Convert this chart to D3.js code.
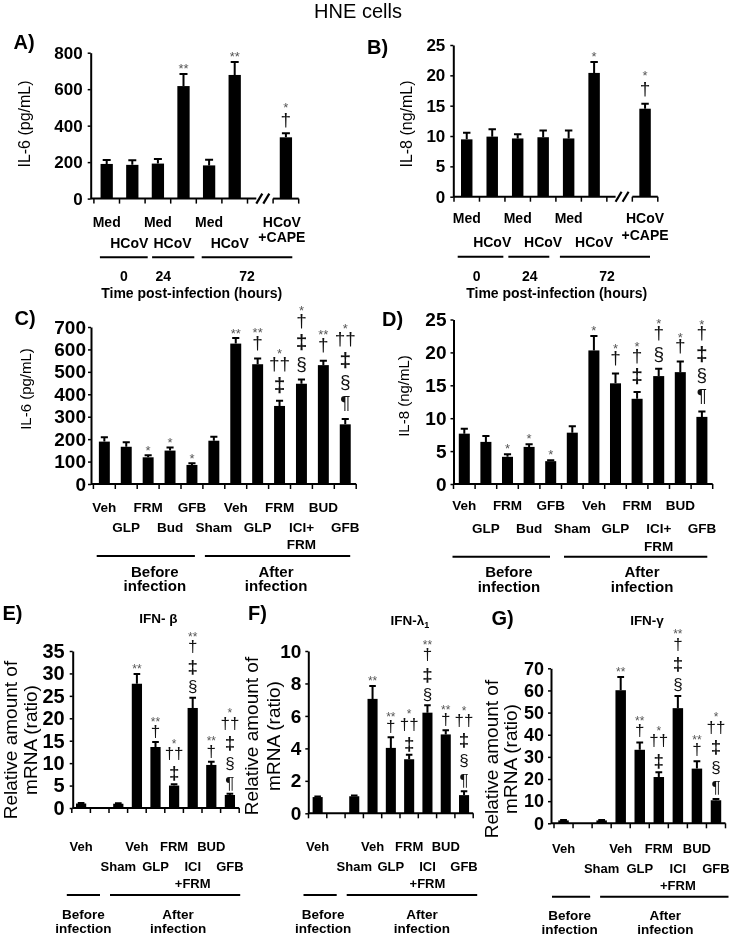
<!DOCTYPE html>
<html><head><meta charset="utf-8">
<script src="https://cdn.jsdelivr.net/npm/d3@7"></script>
<style>body{margin:0;background:#fff} #c{filter:grayscale(1)}</style>
</head><body><svg id="c" width="731" height="936"></svg>
<script>
// ---------------- DATA ----------------
const catsAB = ["Med","HCoV","Med","HCoV","Med","HCoV","","HCoV\n+CAPE"];
const il6A = [190,185,192,617,182,678,null,336];
const il6A_sem = [22,25,25,66,31,71,null,22];
const annA = ["","","","**","","**","","*|†"];
const il8B = [9.45,9.9,9.6,9.8,9.6,20.4,null,14.5];
const il8B_sem = [1.1,1.2,0.7,1.1,1.3,1.8,null,0.8];
const annB = ["","","","","","*","","*|†"];
const groupsAB = [{label:"0",from:0,to:1},{label:"24",from:2,to:3},{label:"72",from:4,to:7}];
const ticksA = [0,200,400,600,800];
const ticksB = [0,5,10,15,20,25];

const catsCD = ["Veh","GLP","FRM","Bud","GFB","Sham","Veh","GLP","FRM","ICI+\nFRM","BUD","GFB"];
const il6C = [189,166,119,149,85,193,626,534,348,447,530,266];
const il6C_sem = [19,20,9,14,7,18,25,25,23,19,19,24];
const annC = ["","","*","*","*","","**","**|†","*|††|‡","*|†|‡|§","**|†","*|††|‡|§|¶"];
const il8D = [7.65,6.4,4.13,5.64,3.47,7.8,20.3,15.3,12.95,16.4,17.0,10.2];
const il8D_sem = [0.75,0.9,0.4,0.4,0.13,0.96,2.2,1.5,1.05,1.1,1.6,0.8];
const annD = ["","","*","*","*","","*","*|†","*|†|‡","*|†|§","*|†","*|†|‡|§|¶"];
const groupsCD = [{label:"Before\ninfection",from:0,to:4},{label:"After\ninfection",from:5,to:11}];
const ticksC = [0,100,200,300,400,500,600,700];
const ticksD = [0,5,10,15,20,25];

const catsEFG = ["Veh","","Sham","Veh","GLP","FRM","ICI\n+FRM","BUD","GFB"];
const ifnbE = [1.0,null,0.95,27.7,13.6,5.0,22.3,9.6,2.9];
const ifnbE_sem = [0.1,null,0.1,2.2,1.1,0.3,2.3,0.7,0.25];
const ifnlF = [1.0,null,1.05,7.05,4.03,3.33,6.2,4.86,1.12];
const ifnlF_sem = [0.03,null,0.05,0.8,0.65,0.27,0.45,0.25,0.24];
const ifngG = [1.3,null,1.3,60.1,33.2,20.9,52.0,24.7,10.4];
const ifngG_sem = [0.2,null,0.2,6.0,3.3,2.1,5.5,3.3,0.6];
const annEFG = ["","","","**","**|†","*|††|‡","**|†|‡|§","**|†","*|††|‡|§|¶"];
const groupsEFG = [{label:"Before\ninfection",from:0,to:1},{label:"After\ninfection",from:2,to:8}];
const ticksE = [0,5,10,15,20,25,30,35];
const ticksF = [0,2,4,6,8,10];
const ticksG = [0,10,20,30,40,50,60,70];

// ---------------- DRAWING ----------------
const FONT = '"Liberation Sans", Arial, Helvetica, sans-serif';
const svg = d3.select("#c").attr("font-family", FONT);

function txt(g, x, y, s, fs, o = {}) {
  return g.append("text").attr("x", x).attr("y", y)
    .attr("font-size", fs).attr("font-weight", o.bold ? "bold" : "normal")
    .attr("text-anchor", o.anchor || "middle").attr("fill", o.fill || "#000").text(s);
}

function panel(c) {
  const g = svg.append("g");
  const n = c.cats.length;
  const x = d3.scaleBand().domain(d3.range(n)).range([c.x0, c.x1]);
  const bw = x.bandwidth();
  const cx = i => x(i) + bw / 2;
  const y = d3.scaleLinear().domain([0, c.max]).range([c.y0, c.yTop]);
  const idx = d3.range(n).filter(i => c.vals[i] != null);
  const w = bw * c.barFrac;

  g.append("g").selectAll("rect").data(idx).join("rect")
    .attr("x", i => cx(i) - w / 2).attr("width", w)
    .attr("y", i => y(c.vals[i])).attr("height", i => c.y0 - y(c.vals[i]))
    .attr("fill", "#000");

  const cw = w * c.capFrac;
  g.append("g").selectAll("path").data(idx.filter(i => c.sems[i] > 0)).join("path")
    .attr("d", i => {
      const t = y(c.vals[i] + c.sems[i]), b = y(c.vals[i]);
      return `M${cx(i)},${b}V${t}M${cx(i) - cw / 2},${t}H${cx(i) + cw / 2}`;
    })
    .attr("stroke", "#000").attr("stroke-width", 2).attr("fill", "none");

  // y axis
  const ya = d3.axisLeft(y).tickValues(c.ticks).tickSizeInner(c.tickLen).tickSizeOuter(0).tickPadding(c.tickPad);
  const yg = g.append("g").attr("transform", `translate(${c.axX},0)`).call(ya);
  yg.attr("font-family", FONT);
  yg.select(".domain").attr("stroke", "#000").attr("stroke-width", 2);
  yg.selectAll(".tick line").attr("stroke", "#000").attr("stroke-width", 1.5);
  yg.selectAll(".tick text").attr("font-size", c.tickFont).attr("font-weight", "bold").attr("fill", "#000");

  // x axis line (with optional break)
  let segs;
  if (c.brk != null) {
    const bc = cx(c.brk) + 2;
    segs = [[c.axX, bc - 6], [x(c.brk) + bw, c.x1]];
    [[bc - 6, bc], [bc + 1, bc + 7]].forEach(([a, b]) => {
      g.append("line").attr("x1", a).attr("y1", c.y0 + 5).attr("x2", b).attr("y2", c.y0 - 5)
        .attr("stroke", "#000").attr("stroke-width", 2.2);
    });
  } else segs = [[c.axX, c.x1]];
  segs.forEach(([a, b]) => g.append("line").attr("x1", a).attr("x2", b).attr("y1", c.y0).attr("y2", c.y0)
    .attr("stroke", "#000").attr("stroke-width", 2));
  d3.range(n + 1).forEach(k => {
    const xx = c.x0 + k * bw;
    g.append("line").attr("x1", xx).attr("x2", xx).attr("y1", c.y0).attr("y2", c.y0 + 5)
      .attr("stroke", "#000").attr("stroke-width", 1.5);
  });

  // category labels
  c.cats.forEach((s, i) => {
    if (!s) return;
    s.split("\n").forEach((ln, j) => {
      txt(g, cx(i) + (c.labelDx ? c.labelDx[i] : 0), c.rowY[c.rows[i]] + j * c.lineGap + 0.36 * c.catFont, ln, c.catFont, {bold: true});
    });
  });

  // groups
  c.groups.forEach((gr, k) => {
    const ins = c.groupInsets[k];
    const xa = x(gr.from) + ins[0], xb = x(gr.to) + bw - ins[1];
    g.append("line").attr("x1", xa).attr("x2", xb).attr("y1", c.groupLineY).attr("y2", c.groupLineY)
      .attr("stroke", "#000").attr("stroke-width", 2);
    gr.label.split("\n").forEach((ln, j) => {
      txt(g, (xa + xb) / 2 + c.groupDx[k], c.groupLabelY[j] + 0.36 * c.groupFont, ln, c.groupFont, {bold: true});
    });
  });
  if (c.timeTitle) txt(g, c.timeTitle.x, c.timeTitle.y + 0.36 * 14, "Time post-infection (hours)", 14, {bold: true});

  // significance symbols
  idx.forEach(i => {
    if (!c.anns[i]) return;
    const parts = c.anns[i].split("|");
    const yE = y(c.vals[i] + c.sems[i]);
    const syms = parts.filter(p => p[0] !== "*").reverse();
    let top = null;
    syms.forEach((s, k) => {
      const cy = yE - c.firstGap - k * c.symGap;
      const isDD = s === "‡";
      const fs = isDD ? c.symFont * 1.1 : c.symFont;
      txt(g, cx(i), cy + 0.28 * fs, s, fs, {bold: isDD, fill: "#111"});
      top = cy;
    });
    const ast = parts.find(p => p[0] === "*");
    if (ast) {
      const cy = top == null ? yE - c.astOnly : top - c.astGap;
      txt(g, cx(i), cy + 0.58 * c.astFont, ast, c.astFont, {fill: "#555"});
    }
  });

  // y title
  c.yTitle.lines.forEach((ln, j) => {
    g.append("text").attr("transform", `translate(${c.yTitle.xs[j] + 0.3 * c.yTitle.font},${c.yTitle.cy}) rotate(-90)`)
      .attr("text-anchor", "middle").attr("font-size", c.yTitle.font).attr("fill", "#000").text(ln);
  });
  // panel letter
  txt(g, c.letter.x, c.letter.y + 0.36 * 20, c.letter.t, 20, {bold: true});
  if (c.sub) {
    const t = txt(g, c.sub.x, c.sub.y + 0.36 * 13.5, c.sub.t, 13.5, {bold: true});
    if (c.sub.subscript) t.append("tspan").attr("font-size", 9).attr("dy", 3).text(c.sub.subscript);
  }
}

// title
txt(svg, 358, 17.5, "HNE cells", 20);

const rowsAB = [0,1,0,1,0,1,0,0];
const rowsCD = [0,1,0,1,0,1,0,1,0,1,0,1];
const rowsEFG = [0,0,1,0,1,0,1,0,1];

panel({cats: catsAB, vals: il6A, sems: il6A_sem, anns: annA, rows: rowsAB, groups: groupsAB, ticks: ticksA,
  axX: 90.7, x0: 93.9, x1: 298.7, y0: 198.6, yTop: 52.7, max: 800, tickFont: 17, tickLen: 3, tickPad: 5,
  barFrac: 0.48, capFrac: 0.65, brk: 6,
  rowY: [221.7, 243], lineGap: 15.6, catFont: 14, labelDx: [0,-3,0,-11,0,-5,0,-4],
  groupLineY: 257.3, groupInsets: [[6,-2.6],[7,2],[5.4,6.4]], groupLabelY: [276], groupFont: 14, groupDx: [0,-10,0],
  timeTitle: {x: 191.7, y: 293},
  yTitle: {lines: ["IL-6 (pg/mL)"], xs: [25], cy: 124, font: 16},
  letter: {t: "A)", x: 24, y: 41.7},
  symFont: 19, astFont: 13, firstGap: 13, symGap: 20, astGap: 16, astOnly: 9});

panel({cats: catsAB, vals: il8B, sems: il8B_sem, anns: annB, rows: rowsAB, groups: groupsAB, ticks: ticksB,
  axX: 453.3, x0: 454, x1: 657.8, y0: 196.7, yTop: 45, max: 25, tickFont: 17, tickLen: 3, tickPad: 5,
  barFrac: 0.45, capFrac: 0.65, brk: 6,
  rowY: [218, 242], lineGap: 17, catFont: 14,
  groupLineY: 256.7, groupInsets: [[3.7,1.6],[3.4,6.6],[4,7.8]], groupLabelY: [276], groupFont: 14, groupDx: [-4,1,2],
  timeTitle: {x: 556.7, y: 293},
  yTitle: {lines: ["IL-8 (ng/mL)"], xs: [406.7], cy: 124, font: 16},
  letter: {t: "B)", x: 377.5, y: 46.7},
  symFont: 19, astFont: 13, firstGap: 14, symGap: 20, astGap: 17, astOnly: 9});

panel({cats: catsCD, vals: il6C, sems: il6C_sem, anns: annC, rows: rowsCD, groups: groupsCD, ticks: ticksC,
  axX: 91, x0: 93.4, x1: 356.2, y0: 484, yTop: 327, max: 700, tickFont: 19, tickLen: 3, tickPad: 2,
  barFrac: 0.5, capFrac: 0.65,
  rowY: [506.7, 526.7], lineGap: 17.3, catFont: 13.5,
  groupLineY: 556, groupInsets: [[3.3,8],[2,6]], groupLabelY: [571.7, 586], groupFont: 15, groupDx: [9,-1.5],
  yTitle: {lines: ["IL-6 (pg/mL)"], xs: [26.7], cy: 389, font: 15},
  letter: {t: "C)", x: 25, y: 318},
  symFont: 19, astFont: 13, firstGap: 15, symGap: 21.5, astGap: 14, astOnly: 8});

panel({cats: catsCD, vals: il8D, sems: il8D_sem, anns: annD, rows: rowsCD, groups: groupsCD, ticks: ticksD,
  axX: 453.5, x0: 453.5, x1: 712.7, y0: 484, yTop: 319.5, max: 25, tickFont: 19, tickLen: 3, tickPad: 4,
  barFrac: 0.51, capFrac: 0.65,
  rowY: [505, 528], lineGap: 18, catFont: 13.5,
  groupLineY: 556.7, groupInsets: [[-1,11.5],[2.5,5.4]], groupLabelY: [571.7, 586.7], groupFont: 15, groupDx: [7.7,6.4],
  yTitle: {lines: ["IL-8 (ng/mL)"], xs: [404.3], cy: 396, font: 15},
  letter: {t: "D)", x: 392.5, y: 319},
  symFont: 19, astFont: 13, firstGap: 14.5, symGap: 21, astGap: 13, astOnly: 8.5});

panel({cats: catsEFG, vals: ifnbE, sems: ifnbE_sem, anns: annEFG, rows: rowsEFG, groups: groupsEFG, ticks: ticksE,
  axX: 72.7, x0: 71.8, x1: 239.2, y0: 808, yTop: 651, max: 35, tickFont: 20, tickLen: 3, tickPad: 5,
  barFrac: 0.55, capFrac: 0.65,
  rowY: [846.7, 866.7], lineGap: 16.7, catFont: 13,
  groupLineY: 895, groupInsets: [[-5,9],[1,-1]], groupLabelY: [914.3, 928.3], groupFont: 13.5, groupDx: [0,3],
  yTitle: {lines: ["Relative amount of","mRNA (ratio)"], xs: [11.7, 31.7], cy: 740, font: 19},
  letter: {t: "E)", x: 12.5, y: 613},
  sub: {t: "IFN- β", x: 158.3, y: 618.3},
  symFont: 17, astFont: 12, firstGap: 10, symGap: 20, astGap: 13.5, astOnly: 8});

panel({cats: catsEFG, vals: ifnlF, sems: ifnlF_sem, anns: annEFG, rows: rowsEFG, groups: groupsEFG, ticks: ticksF,
  axX: 308.3, x0: 308.5, x1: 473.2, y0: 813.3, yTop: 651, max: 10, tickFont: 19, tickLen: 3, tickPad: 4,
  barFrac: 0.55, capFrac: 0.65,
  rowY: [846.7, 866.7], lineGap: 16.7, catFont: 13,
  groupLineY: 895, groupInsets: [[-5,8.4],[1.6,-4]], groupLabelY: [914, 928], groupFont: 13.5, groupDx: [3,10],
  yTitle: {lines: ["Relative amount of","mRNA (ratio)"], xs: [252.5, 274], cy: 736, font: 19},
  letter: {t: "F)", x: 257.5, y: 613},
  sub: {t: "IFN-λ", subscript: "1", x: 410, y: 620},
  symFont: 17, astFont: 12, firstGap: 10, symGap: 20, astGap: 13.5, astOnly: 8});

panel({cats: catsEFG, vals: ifngG, sems: ifngG_sem, anns: annEFG, rows: rowsEFG, groups: groupsEFG, ticks: ticksG,
  axX: 551, x0: 554, x1: 725.5, y0: 823.3, yTop: 668.3, max: 70, tickFont: 18, tickLen: 3, tickPad: 4,
  barFrac: 0.55, capFrac: 0.65,
  rowY: [848.3, 868.3], lineGap: 16.7, catFont: 13,
  groupLineY: 896.7, groupInsets: [[-2,2],[8,-3]], groupLabelY: [915, 928.7], groupFont: 13.5, groupDx: [-1.5,1],
  yTitle: {lines: ["Relative amount of","mRNA (ratio)"], xs: [492.5, 511.7], cy: 759, font: 19},
  letter: {t: "G)", x: 502.5, y: 618},
  sub: {t: "IFN-γ", x: 647, y: 620.5},
  symFont: 17, astFont: 12, firstGap: 11, symGap: 20, astGap: 13.5, astOnly: 8});
</script>
</body></html>
